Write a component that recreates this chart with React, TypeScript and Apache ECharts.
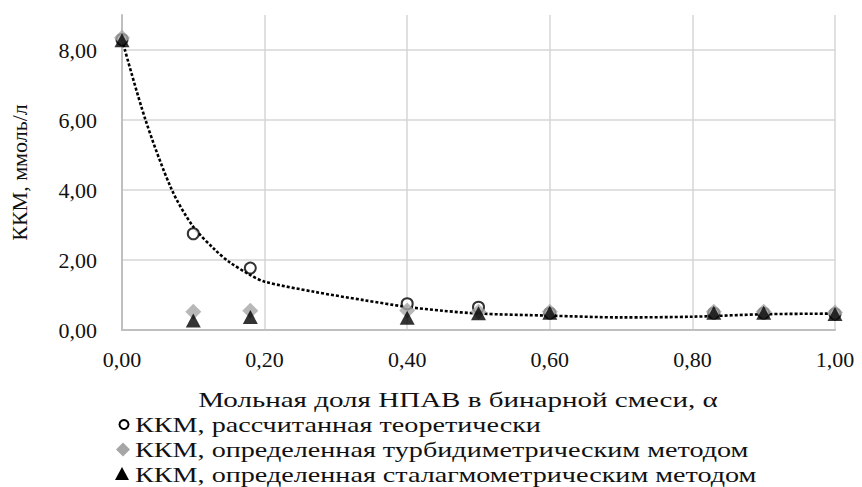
import React, { useEffect, useRef } from "react";
import * as echarts from "echarts";

// Molar fraction of non-ionic surfactant (x values)
const alpha = [0, 0.1, 0.18, 0.4, 0.5, 0.6, 0.83, 0.9, 1.0];
// CMC, theoretical (open circles)
const cmcTheory = [8.3, 2.75, 1.77, 0.75, 0.65, 0.48, 0.48, 0.48, 0.46];
// CMC, turbidimetric (grey diamonds)
const cmcTurbid = [8.35, 0.52, 0.55, 0.56, 0.52, 0.52, 0.52, 0.52, 0.5];
// CMC, stalagmometric (black triangles)
const cmcStalag = [8.28, 0.27, 0.37, 0.35, 0.48, 0.49, 0.49, 0.49, 0.46];

// Dotted trend line
const trendAlpha = [0, 0.033, 0.07, 0.1, 0.13, 0.15, 0.18, 0.2, 0.27, 0.34, 0.4, 0.45, 0.5, 0.6, 0.7, 0.8, 0.9, 1.0, 1.03];
const trendValue = [8.3, 6.0, 4.0, 2.95, 2.3, 1.95, 1.57, 1.38, 1.09, 0.85, 0.66, 0.55, 0.47, 0.41, 0.36, 0.38, 0.45, 0.47, 0.48];

const xTitle = "Мольная доля НПАВ в бинарной смеси, α";
const yTitle = "ККМ, ммоль/л";
const legendNames = [
  "ККМ, рассчитанная теоретически",
  "ККМ, определенная турбидиметрическим методом",
  "ККМ, определенная сталагмометрическим методом",
];

const FONT = '"Liberation Serif", "Times New Roman", serif';
const fmt = (v: number) => v.toFixed(2).replace(".", ",");

export default function App() {
  const ref = useRef<HTMLDivElement>(null);
  useEffect(() => {
    document.body.style.margin = "0";
    if (!ref.current) return;
    const chart = echarts.init(ref.current, undefined, { renderer: "svg" });
    const pairs = (xs: number[], ys: number[]) => xs.map((x, i) => [x, ys[i]]);
    const textEl = (text: string, x: number, y: number, align: string, sx: number) => ({
      type: "text",
      x,
      y,
      scaleX: sx,
      style: {
        text,
        fontFamily: FONT,
        fontSize: 22,
        fill: "#111",
        align,
        verticalAlign: "middle",
      },
    });
    const rowY = [424.5, 449.5, 474];
    chart.setOption({
      animation: false,
      textStyle: { fontFamily: FONT },
      grid: { left: 120, right: 27, top: 15, bottom: 157, containLabel: false },
      xAxis: {
        type: "value",
        min: 0,
        max: 1,
        interval: 0.2,
        axisLine: { show: true, lineStyle: { color: "#bfbfbf", width: 2 } },
        axisTick: { show: false },
        axisLabel: {
          formatter: (v: number) => fmt(v),
          fontSize: 22,
          color: "#111",
          fontFamily: FONT,
          margin: 18,
        },
        splitLine: { show: true, lineStyle: { color: "#d6d6d6", width: 1.5 } },
      },
      yAxis: {
        type: "value",
        min: 0,
        max: 9,
        interval: 2,
        name: yTitle,
        nameLocation: "middle",
        nameGap: 92,
        nameRotate: 90,
        nameTextStyle: { fontSize: 22, color: "#111", fontFamily: FONT },
        axisLine: { show: true, lineStyle: { color: "#bfbfbf", width: 2 } },
        axisTick: { show: false },
        axisLabel: {
          formatter: (v: number) => (v > 8.5 ? "" : fmt(v)),
          fontSize: 22,
          color: "#111",
          fontFamily: FONT,
          margin: 25,
          showMaxLabel: false,
        },
        splitLine: { show: true, showMaxLine: false, lineStyle: { color: "#d6d6d6", width: 1.5 } },
      },
      series: [
        {
          name: "trend",
          type: "line",
          data: pairs(trendAlpha, trendValue),
          showSymbol: false,
          symbol: "none",
          smooth: 0.3,
          clip: false,
          lineStyle: { color: "#000", width: 2.6, type: [3, 2], cap: "butt" },
          z: 1,
        },
        {
          name: legendNames[0],
          type: "scatter",
          data: pairs(alpha, cmcTheory),
          symbol: "circle",
          symbolSize: 11,
          itemStyle: { color: "#fff", borderColor: "#000", borderWidth: 2 },
          z: 2,
        },
        {
          name: legendNames[1],
          type: "scatter",
          data: pairs(alpha, cmcTurbid),
          symbol: "diamond",
          symbolSize: 16,
          itemStyle: { color: "#a6a6a6" },
          z: 3,
        },
        {
          name: legendNames[2],
          type: "scatter",
          data: pairs(alpha, cmcStalag),
          symbol: "triangle",
          symbolSize: [15, 14],
          itemStyle: { color: "#000" },
          z: 4,
        },
      ],
      graphic: [
        textEl(xTitle, 458, 400, "center", 1.32),
        {
          type: "circle",
          shape: { cx: 124, cy: rowY[0], r: 4.5 },
          style: { fill: "#fff", stroke: "#000", lineWidth: 2 },
        },
        {
          type: "polygon",
          shape: { points: [[123, rowY[1] - 7], [130, rowY[1]], [123, rowY[1] + 7], [116, rowY[1]]] },
          style: { fill: "#a6a6a6" },
        },
        {
          type: "polygon",
          shape: { points: [[122, rowY[2] - 7], [129, rowY[2] + 6], [115, rowY[2] + 6]] },
          style: { fill: "#000" },
        },
        textEl(legendNames[0], 135, rowY[0], "left", 1.28),
        textEl(legendNames[1], 135, rowY[1], "left", 1.28),
        textEl(legendNames[2], 135, rowY[2], "left", 1.28),
      ],
    });
    return () => chart.dispose();
  }, []);
  return <div ref={ref} style={{ width: 862, height: 487 }} />;
}
